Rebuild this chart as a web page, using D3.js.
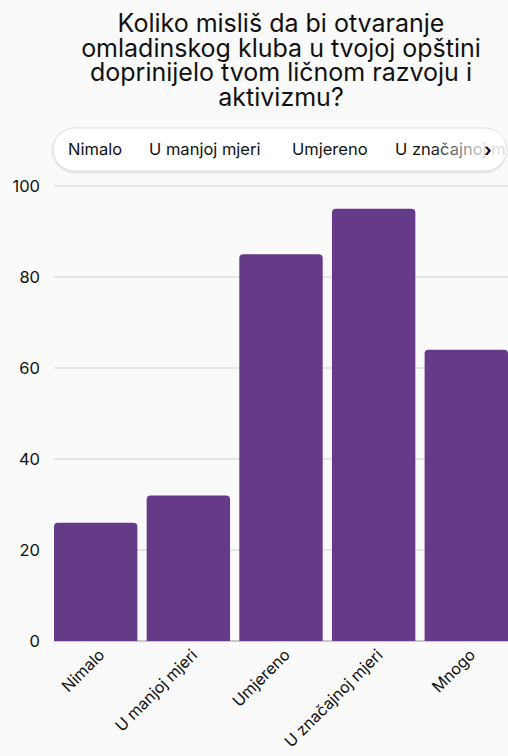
<!DOCTYPE html>
<html><head><meta charset="utf-8">
<script src="https://cdn.jsdelivr.net/npm/d3@7"></script>
<style>
html,body{margin:0;padding:0;background:#fafafa;}
svg{display:block;}
text{font-family:Inter,"Liberation Sans",Arial,sans-serif;}
</style></head>
<body>
<svg id="c" width="508" height="756"></svg>
<script>
const titleLines = ["Koliko misliš da bi otvaranje","omladinskog kluba u tvojoj opštini","doprinijelo tvom ličnom razvoju i","aktivizmu?"];
const categories = ["Nimalo","U manjoj mjeri","Umjereno","U značajnoj mjeri","Mnogo"];
const values = [26,32,85,95,64];
const yTicks = [0,20,40,60,80,100];
const barColor = "#653a88";

const svg = d3.select("#c");
svg.append("rect").attr("width",508).attr("height",756).attr("fill","#fafafa");

// title
const t = svg.append("text").attr("text-anchor","middle").attr("font-size",25).attr("fill","#111");
titleLines.forEach((l,i)=>t.append("tspan").attr("x",281).attr("y",32+i*24.6).text(l));

// legend pill
const defs = svg.append("defs");
const f = defs.append("filter").attr("id","sh").attr("x","-10%").attr("y","-30%").attr("width","120%").attr("height","170%");
f.append("feDropShadow").attr("dx",0).attr("dy",1).attr("stdDeviation",1.2).attr("flood-color","#000").attr("flood-opacity",0.18);
const g = defs.append("linearGradient").attr("id","fade").attr("x1",0).attr("x2",1).attr("y1",0).attr("y2",0);
g.append("stop").attr("offset","0%").attr("stop-color","#fff").attr("stop-opacity",0);
g.append("stop").attr("offset","100%").attr("stop-color","#fff").attr("stop-opacity",0.85);
defs.append("clipPath").attr("id","pillclip").append("rect").attr("x",53).attr("y",128).attr("width",453).attr("height",43).attr("rx",21.5);

svg.append("rect").attr("x",53).attr("y",128).attr("width",453).attr("height",43).attr("rx",21.5)
  .attr("fill","#fff").attr("stroke","#d8d8d8").attr("stroke-width",0.8).attr("filter","url(#sh)");
const lg = svg.append("g").attr("clip-path","url(#pillclip)");
const legX = [68,149,292,395,550];
categories.forEach((c,i)=>lg.append("text").attr("x",legX[i]).attr("y",155).attr("font-size",16.5).attr("fill","#111").text(c));
lg.append("rect").attr("x",430).attr("y",130).attr("width",56).attr("height",40).attr("fill","url(#fade)");
lg.append("rect").attr("x",486).attr("y",130).attr("width",22).attr("height",40).attr("fill","#fff").attr("opacity",0.85);
lg.append("text").attr("x",484).attr("y",156).attr("font-size",18).attr("font-weight",700).attr("fill","#111").text("›");

// scales
const x = d3.scaleBand().domain(categories).range([54,508]).paddingInner(0.1).paddingOuter(0);
const y = d3.scaleLinear().domain([0,100]).range([641,186]);

// grid
svg.append("g").selectAll("line").data(yTicks.filter(v=>v>0)).join("line")
  .attr("x1",54).attr("x2",508).attr("y1",d=>y(d)).attr("y2",d=>y(d))
  .attr("stroke","#cfcfcf").attr("stroke-width",1);
svg.append("line").attr("x1",54).attr("x2",508).attr("y1",y(0)).attr("y2",y(0)).attr("stroke","#9a9a9a").attr("stroke-width",1);

// y axis
const ya = svg.append("g").attr("transform","translate(40,0)")
  .call(d3.axisLeft(y).tickValues(yTicks).tickSize(0).tickPadding(0));
ya.select(".domain").remove();
ya.selectAll("text").attr("font-size",16.5).attr("fill","#111").attr("font-family","Inter,'Liberation Sans',Arial,sans-serif");

// bars
const r = 4;
svg.append("g").selectAll("path").data(values).join("path")
  .attr("fill",barColor)
  .attr("d",(d,i)=>{
    const x0 = x(categories[i]), w = x.bandwidth(), y0 = y(d), yb = y(0);
    return `M${x0},${yb}V${y0+r}Q${x0},${y0} ${x0+r},${y0}H${x0+w-r}Q${x0+w},${y0} ${x0+w},${y0+r}V${yb}Z`;
  });

// x labels
svg.append("g").selectAll("text").data(categories).join("text")
  .attr("transform",d=>`translate(${x(d)+x.bandwidth()/2+6},${652}) rotate(-45)`)
  .attr("text-anchor","end").attr("dy","0.35em").attr("font-size",16).attr("fill","#111").text(d=>d);
</script>
</body></html>
